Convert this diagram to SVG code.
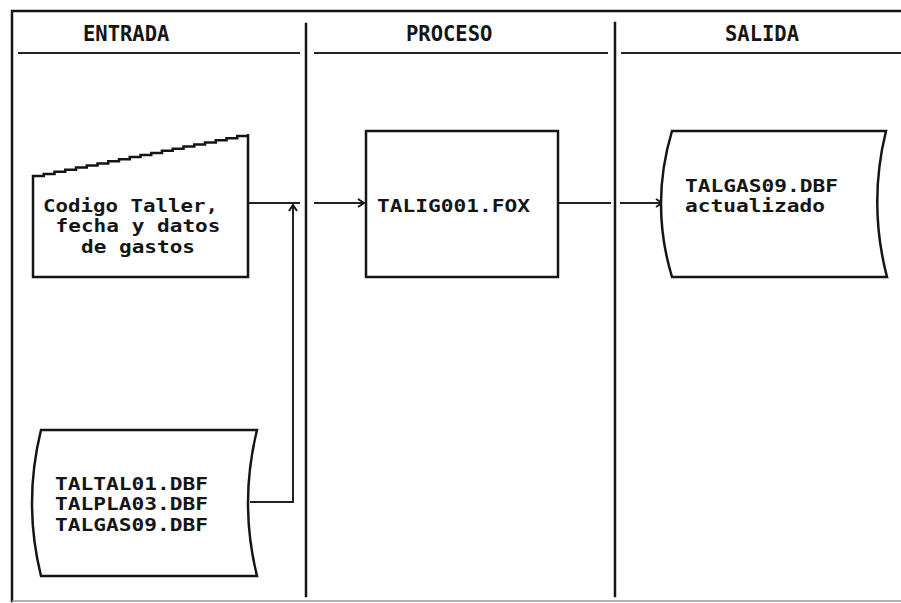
<svg xmlns="http://www.w3.org/2000/svg" width="901" height="603" viewBox="0 0 901 603">
<style>
.ln{stroke:#151515;stroke-width:2.5;fill:none;stroke-linecap:square}
.thin{stroke:#222;stroke-width:2;fill:none}
.nd{stroke:#151515;stroke-width:2.5;fill:#fff;stroke-linejoin:miter}
.hd{font-family:"DejaVu Sans Mono","Liberation Mono",monospace;font-weight:bold;font-size:20.5px;fill:#151515}
.tx{font-family:"DejaVu Sans Mono","Liberation Mono",monospace;font-weight:bold;font-size:18px;fill:#151515}
</style>
<defs>
<marker id="arr" viewBox="0 0 10 10" refX="9" refY="5" markerWidth="10" markerHeight="10" markerUnits="userSpaceOnUse" orient="auto">
<polyline points="3,1 9,5 3,9" fill="none" stroke="#151515" stroke-width="2"/>
</marker>
</defs>
<rect width="901" height="603" fill="#fff"/>
<g id="frame">
<path class="ln" d="M12,601 V11 H901"/>
<line x1="12" y1="601" x2="901" y2="601" stroke="#999" stroke-width="1.5"/>
<line class="ln" x1="306" y1="24" x2="306" y2="596"/>
<line class="ln" x1="615" y1="23" x2="615" y2="596"/>
<line class="thin" x1="18" y1="53" x2="300" y2="53"/>
<line class="thin" x1="314" y1="53" x2="608" y2="53"/>
<line class="thin" x1="621" y1="53" x2="901" y2="53"/>
<text class="hd" x="83" y="41">ENTRADA</text>
<text class="hd" x="406" y="41">PROCESO</text>
<text class="hd" x="725" y="41">SALIDA</text>
</g>
<g id="connectors">
<polyline class="thin" points="248,203 300,203"/>
<polyline class="thin" points="250,502 293,502 293,205" marker-end="url(#arr)"/>
<line class="thin" x1="314" y1="203" x2="364" y2="203" marker-end="url(#arr)"/>
<line class="thin" x1="558" y1="203" x2="611" y2="203"/>
<line class="thin" x1="620" y1="203" x2="662" y2="203" marker-end="url(#arr)"/>
</g>
<g id="node-entrada-manual">
<path class="nd" d="M33,277 V176 h10.75 v-2.1 h10.75 v-2.1 h10.75 v-2.1 h10.75 v-2.1 h10.75 v-2.1 h10.75 v-2.1 h10.75 v-2.1 h10.75 v-2.1 h10.75 v-2.1 h10.75 v-2.1 h10.75 v-2.1 h10.75 v-2.1 h10.75 v-2.1 h10.75 v-2.1 h10.75 v-2.1 h10.75 v-2.1 h10.75 v-2.1 h10.75 v-2.1 h10.75 v-2.1 h10.75 v-2.1 V277 Z"/>
<text class="tx" x="43" y="212" textLength="175" lengthAdjust="spacingAndGlyphs">Codigo Taller,</text>
<text class="tx" x="55.5" y="232" textLength="165" lengthAdjust="spacingAndGlyphs">fecha y datos</text>
<text class="tx" x="81" y="253" textLength="114" lengthAdjust="spacingAndGlyphs">de gastos</text>
</g>
<g id="node-entrada-files">
<path class="nd" d="M41,430 H257 Q239,503 257,576 H41 Q23,503 41,430 Z"/>
<text class="tx" x="55" y="490" textLength="153" lengthAdjust="spacingAndGlyphs">TALTAL01.DBF</text>
<text class="tx" x="55" y="510" textLength="153" lengthAdjust="spacingAndGlyphs">TALPLA03.DBF</text>
<text class="tx" x="55" y="531" textLength="153" lengthAdjust="spacingAndGlyphs">TALGAS09.DBF</text>
</g>
<g id="node-proceso">
<rect class="nd" x="366" y="131" width="192" height="146"/>
<text class="tx" x="377" y="212" textLength="153" lengthAdjust="spacingAndGlyphs">TALIG001.FOX</text>
</g>
<g id="node-salida">
<path class="nd" d="M672,131 H886 Q868,204 887,277 H672 Q650,204 672,131 Z"/>
<text class="tx" x="685" y="192" textLength="153" lengthAdjust="spacingAndGlyphs">TALGAS09.DBF</text>
<text class="tx" x="685" y="212" textLength="140" lengthAdjust="spacingAndGlyphs">actualizado</text>
</g>
</svg>
